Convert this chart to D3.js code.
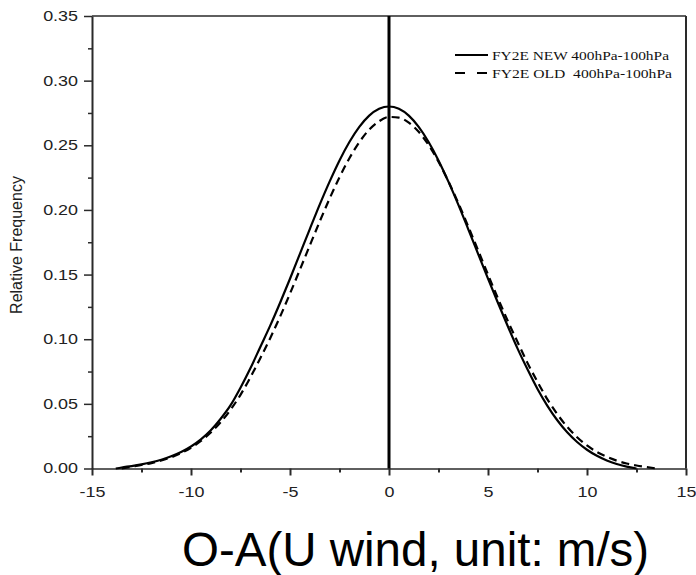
<!DOCTYPE html>
<html><head><meta charset="utf-8">
<script src="https://cdn.jsdelivr.net/npm/d3@7"></script>
<style>html,body{margin:0;padding:0;background:#fff;} svg{display:block;}</style>
</head><body>
<svg id="chart" width="696" height="575"></svg>
<script>
// ---- data ----
const xTickValues = [-15, -10, -5, 0, 5, 10, 15];
const xMinorTicks = [-12.5, -7.5, -2.5, 2.5, 7.5, 12.5];
const yTickValues = [0, 0.05, 0.10, 0.15, 0.20, 0.25, 0.30, 0.35];
const yMinorTicks = [0.025, 0.075, 0.125, 0.175, 0.225, 0.275, 0.325];
const seriesNames = ["FY2E NEW 400hPa-100hPa", "FY2E OLD  400hPa-100hPa"];
const xTitle = "O-A(U wind, unit: m/s)";
const yTitle = "Relative Frequency";
const zeroLineX = 0;

const newX = [-13.8,-13.5,-13,-12.5,-12,-11.5,-11,-10.5,-10,-9.5,-9,-8.5,-8,-7.5,-7,-6.5,-6,-5.5,-5,-4.5,-4,-3.5,-3,-2.5,-2,-1.5,-1,-0.5,0,0.5,1,1.5,2,2.5,3,3.5,4,4.5,5,5.5,6,6.5,7,7.5,8,8.5,9,9.5,10,10.5,11,11.5,12,12.5];
const newY = [0,0.0008,0.0019,0.0032,0.0048,0.0068,0.0094,0.0127,0.017,0.0225,0.0295,0.0385,0.049,0.0625,0.0775,0.094,0.1105,0.1282,0.1468,0.1660,0.1852,0.2041,0.2219,0.2383,0.2525,0.2642,0.2729,0.2782,0.2800,0.2782,0.2729,0.2642,0.2525,0.2383,0.2219,0.2041,0.1852,0.1660,0.1468,0.1282,0.1100,0.0925,0.0765,0.0615,0.0485,0.0373,0.028,0.0205,0.0145,0.0098,0.0062,0.0035,0.0015,0];

const oldX = [-13.5,-13,-12.5,-12,-11.5,-11,-10.5,-10,-9.5,-9,-8.5,-8,-7.5,-7,-6.5,-6,-5.5,-5,-4.5,-4,-3.5,-3,-2.5,-2,-1.5,-1,-0.5,0,0.5,1,1.5,2,2.5,3,3.5,4,4.5,5,5.5,6,6.5,7,7.5,8,8.5,9,9.5,10,10.5,11,11.5,12,12.5,13,13.5];
const oldY = [0,0.0014,0.0027,0.0042,0.0062,0.0087,0.0119,0.016,0.0213,0.0278,0.0358,0.0455,0.0570,0.0705,0.0853,0.1008,0.1175,0.1353,0.1538,0.1725,0.1910,0.2088,0.2253,0.2400,0.2524,0.2621,0.2686,0.2719,0.2714,0.2675,0.2604,0.2502,0.2373,0.2221,0.2053,0.1873,0.1688,0.1500,0.1317,0.1141,0.0976,0.0815,0.0670,0.0535,0.0420,0.0322,0.0242,0.0178,0.0128,0.0090,0.0061,0.0039,0.0023,0.0011,0];

// ---- drawing ----
const svg = d3.select("#chart");
const x = d3.scaleLinear().domain([-15, 15]).range([92, 686]);
const y = d3.scaleLinear().domain([0, 0.35]).range([468.5, 16]);
const SX = 1.28;
const axisColor = "#2a2a2a";
const sans = "'Liberation Sans', Arial, sans-serif";
const serif = "'Liberation Serif', 'Times New Roman', serif";

function stretch(sel, k) {
  sel.each(function () {
    const w = this.getComputedTextLength();
    this.setAttribute("textLength", w * k);
    this.setAttribute("lengthAdjust", "spacingAndGlyphs");
  });
}

// Y axis
const gy = svg.append("g").attr("transform", "translate(92,0)")
  .call(d3.axisLeft(y).tickValues(yTickValues).tickSize(8).tickSizeOuter(0).tickPadding(6)
    .tickFormat(d3.format(".2f")));
gy.select(".domain").attr("stroke", axisColor).attr("stroke-width", 2);
gy.selectAll(".tick line").attr("stroke", axisColor).attr("stroke-width", 1.5);
gy.selectAll(".tick text").attr("font-family", sans).attr("font-size", 14).attr("fill", "#222");
stretch(gy.selectAll(".tick text"), SX);
const gym = svg.append("g").attr("transform", "translate(92,0)")
  .call(d3.axisLeft(y).tickValues(yMinorTicks).tickSize(4).tickFormat(""));
gym.select(".domain").remove();
gym.selectAll(".tick line").attr("stroke", axisColor).attr("stroke-width", 1.5);

// X axis
const gx = svg.append("g").attr("transform", "translate(0,468.5)")
  .call(d3.axisBottom(x).tickValues(xTickValues).tickSize(7).tickSizeOuter(0)
    .tickFormat(d => String(d)));
gx.select(".domain").attr("stroke", axisColor).attr("stroke-width", 1.5);
gx.selectAll(".tick line").attr("stroke", axisColor).attr("stroke-width", 2);
gx.selectAll(".tick text").attr("font-family", sans).attr("font-size", 14).attr("fill", "#222")
  .attr("y", 28).attr("dy", null);
stretch(gx.selectAll(".tick text"), SX);
const gxm = svg.append("g").attr("transform", "translate(0,468.5)")
  .call(d3.axisBottom(x).tickValues(xMinorTicks).tickSize(4).tickFormat(""));
gxm.select(".domain").remove();
gxm.selectAll(".tick line").attr("stroke", axisColor).attr("stroke-width", 2);

// frame: top and right
svg.append("line").attr("x1", x(-15)).attr("x2", x(15)).attr("y1", y(0.35)).attr("y2", y(0.35))
  .attr("stroke", axisColor).attr("stroke-width", 1.5);
svg.append("line").attr("x1", x(15)).attr("x2", x(15)).attr("y1", y(0.35)).attr("y2", y(0))
  .attr("stroke", axisColor).attr("stroke-width", 2);

// zero line
svg.append("line").attr("x1", x(zeroLineX)).attr("x2", x(zeroLineX)).attr("y1", y(0.35)).attr("y2", y(0))
  .attr("stroke", "#000").attr("stroke-width", 3);

// curves
const line = d3.line().x(d => x(d[0])).y(d => y(d[1])).curve(d3.curveMonotoneX);
const newData = newX.map((v, i) => [v, newY[i]]);
const oldData = oldX.map((v, i) => [v, oldY[i]]);
svg.append("path").datum(oldData).attr("d", line).attr("fill", "none")
  .attr("stroke", "#000").attr("stroke-width", 2.2).attr("stroke-dasharray", "8,5");
svg.append("path").datum(newData).attr("d", line).attr("fill", "none")
  .attr("stroke", "#000").attr("stroke-width", 2.2);

// legend
const legend = svg.append("g");
const legendRows = [
  { name: seriesNames[0], dash: null, ly: 55, ty: 60, w: 177 },
  { name: seriesNames[1], dash: "10,12", ly: 73, ty: 78, w: 180 }
];
legendRows.forEach(r => {
  legend.append("line").attr("x1", 455).attr("x2", 488).attr("y1", r.ly).attr("y2", r.ly)
    .attr("stroke", "#000").attr("stroke-width", 2.2).attr("stroke-dasharray", r.dash);
  legend.append("text").attr("x", 492).attr("y", r.ty).attr("font-family", serif)
    .attr("font-size", 12).attr("fill", "#111").style("white-space", "pre")
    .attr("textLength", r.w).attr("lengthAdjust", "spacingAndGlyphs").text(r.name);
});

// axis titles
svg.append("text").attr("transform", "translate(22,245) rotate(-90)")
  .attr("text-anchor", "middle").attr("font-family", sans).attr("font-size", 16)
  .attr("fill", "#222").text(yTitle);
svg.append("text").attr("x", 182).attr("y", 566).attr("font-family", sans)
  .attr("font-size", 47.5).attr("fill", "#000").text(xTitle);
</script>
</body></html>
